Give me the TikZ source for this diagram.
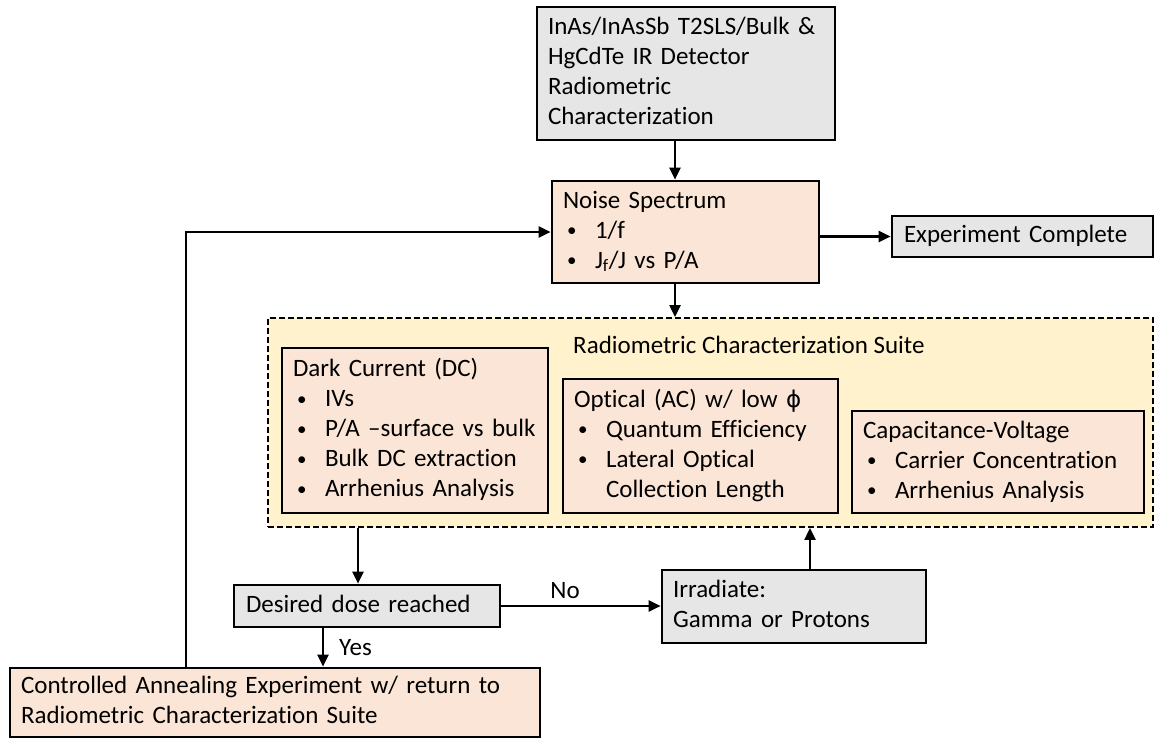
\documentclass[tikz,border=0pt]{standalone}
\usepackage{fontspec}
\setmainfont{Carlito}[Ligatures=NoCommon]
\newfontfamily\dvfont{DejaVu Sans}
\usetikzlibrary{arrows.meta}
\definecolor{peach}{RGB}{251,229,214}
\definecolor{grayfill}{RGB}{231,230,230}
\definecolor{suitefill}{RGB}{255,242,204}
\newcommand{\bl}[1]{\hspace*{4pt}\makebox[28pt][l]{\raisebox{1.5pt}{\fontsize{19}{30}\selectfont\textbullet}}#1}
\begin{document}
\begin{tikzpicture}[x=1pt,y=-1pt,
  txtfont/.style={font=\fontsize{25}{30}\selectfont},
  box/.style={draw=black, line width=2.7pt, rectangle, inner xsep=11pt, inner ysep=0pt,
    align=left, txtfont, execute at begin node={\strut}, execute at end node={\strut}},
  peachbox/.style={box, fill=peach},
  graybox/.style={box, fill=grayfill},
  suitebox/.style={draw=black, line width=1.9pt, dash pattern=on 6pt off 3pt, fill=suitefill, rectangle},
  arr/.style={line width=2.3pt, -{Triangle[length=12pt,width=11pt]}},
  lbl/.style={txtfont, inner sep=0pt}
]
\useasboundingbox (0,0) rectangle (1155,740);

% nodes
\node[graybox, minimum width=298pt, minimum height=133pt, text width=276pt] (top) at (686,73.5)
  {InAs/InAsSb T2SLS/Bulk \&\\HgCdTe IR Detector\\Radiometric\\Characterization};
\node[peachbox, minimum width=267pt, minimum height=102pt, text width=245pt] (noise) at (685.5,232)
  {Noise Spectrum\\\bl{1/f}\\\bl{J\textsubscript{f}/J vs P/A}};
\node[graybox, minimum width=261pt, minimum height=41pt, text width=237pt, inner xsep=12pt] (exp) at (1022.5,236.5)
  {Experiment Complete};
\node[suitebox, minimum width=885pt, minimum height=209pt] (suite) at (710.5,422.5) {};
\node[lbl, anchor=west] (ttl) at (573,345) {Radiometric Characterization Suite};
\node[peachbox, minimum width=266pt, minimum height=165pt, text width=244pt] (dc) at (415,430.5)
  {Dark Current (DC)\\\bl{IVs}\\\bl{P/A –surface vs bulk}\\\bl{Bulk DC extraction}\\\bl{Arrhenius Analysis}};
\node[peachbox, minimum width=275pt, minimum height=134pt, text width=253pt] (opt) at (700.5,446)
  {Optical (AC) w/ low {\dvfont\fontsize{23}{30}\selectfont ϕ}\\\bl{Quantum Efficiency}\\\bl{Lateral Optical}\\\hspace*{32pt}Collection Length};
\node[peachbox, minimum width=292pt, minimum height=102pt, text width=270pt] (cv) at (998,462)
  {Capacitance-Voltage\\\bl{Carrier Concentration}\\\bl{Arrhenius Analysis}};
\node[graybox, minimum width=264pt, minimum height=42pt, text width=242pt, inner xsep=12pt] (dose) at (367,606)
  {Desired dose reached};
\node[graybox, minimum width=264pt, minimum height=73pt, text width=242pt] (irr) at (794,606.5)
  {Irradiate:\\Gamma or Protons};
\node[peachbox, minimum width=530pt, minimum height=69pt, text width=508pt, inner xsep=10pt] (ctrl) at (275,702.5)
  {Controlled Annealing Experiment w/ return to\\Radiometric Characterization Suite};

% helper coordinates
\coordinate (xa) at (675,0);
\coordinate (xb) at (358,0);
\coordinate (xc) at (323,0);
\coordinate (xd) at (810,0);
\coordinate (xe) at (186,0);

% connectors
\draw[arr] (top.south -| xa) -- (noise.north -| xa);
\draw[arr] (noise.east |- exp.west) -- (exp.west);
\draw[arr] (noise.south -| xa) -- (suite.north -| xa);
\draw[arr] (suite.south -| xb) -- (dose.north -| xb);
\draw[arr] (dose.east) -- node[pos=0.4, above=6pt, lbl] (nolbl) {No} (irr.west |- dose.east);
\draw[arr] (irr.north -| xd) -- (suite.south -| xd);
\draw[arr] (dose.south -| xc) -- node[midway, right=15pt, lbl] (yeslbl) {Yes} (ctrl.north -| xc);
\draw[arr] (ctrl.north -| xe) |- (noise.west);
\end{tikzpicture}
\end{document}
